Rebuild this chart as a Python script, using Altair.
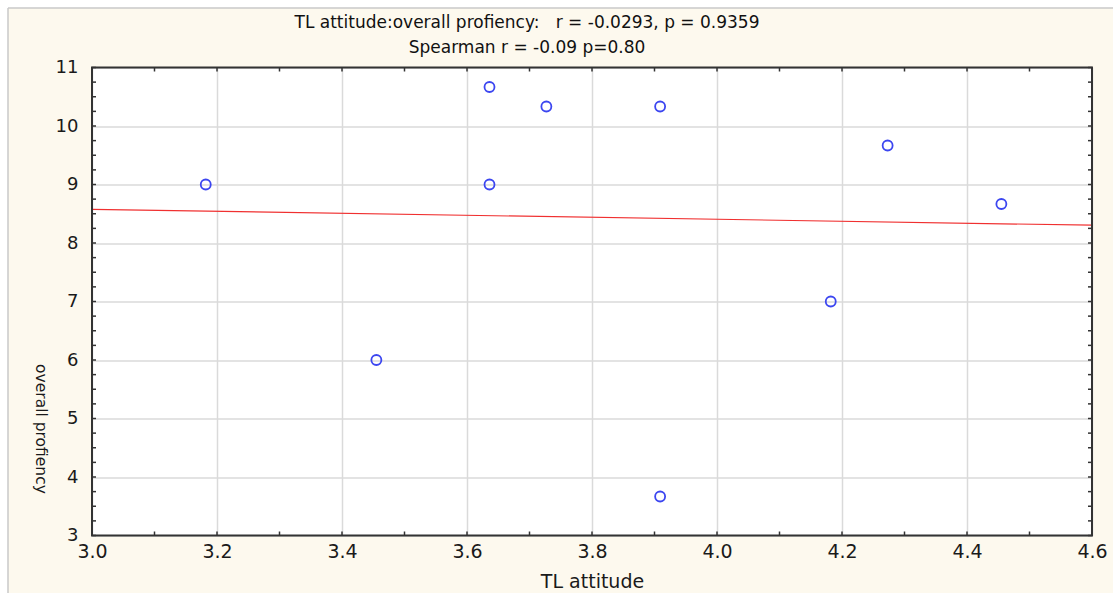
import altair as alt
import pandas as pd

# Observations: TL attitude vs overall profiency
tl_attitude = [3.182, 3.455, 3.636, 3.636, 3.727, 3.909, 3.909, 4.182, 4.273, 4.455]
overall_profiency = [9.0, 6.0, 10.667, 9.0, 10.333, 10.333, 3.667, 7.0, 9.667, 8.667]

# Axis labels and tick positions
x_label_values = [3.0, 3.2, 3.4, 3.6, 3.8, 4.0, 4.2, 4.4, 4.6]
y_label_values = [3, 4, 5, 6, 7, 8, 9, 10, 11]
x_tick_values = [3.0, 3.1, 3.2, 3.3, 3.4, 3.5, 3.6, 3.7, 3.8, 3.9,
                 4.0, 4.1, 4.2, 4.3, 4.4, 4.5, 4.6]
y_tick_values = [3 + 0.25 * i for i in range(33)]

title_lines = [
    "TL attitude:overall profiency:\u00a0\u00a0\u00a0r = -0.0293, p = 0.9359",
    "Spearman r = -0.09 p=0.80",
]

FONT = "DejaVu Sans"
CREAM = "#FDF9EE"
W, H = 1000, 468

df = pd.DataFrame({"x": tl_attitude, "y": overall_profiency})

xs = alt.Scale(domain=[3.0, 4.6], nice=False, zero=False)
ys = alt.Scale(domain=[3, 11], nice=False, zero=False)

x_axis = alt.Axis(
    values=x_label_values, format=".1f", grid=True, ticks=False, domain=False,
    labelFlush=False,
    labelFont=FONT, labelFontSize=19, labelColor="#1A1A1A", labelPadding=7,
    title="TL attitude", titleFont=FONT, titleFontSize=19, titleFontWeight="normal",
    titleColor="#1A1A1A", titlePadding=11, gridColor="#DADADA", gridWidth=1.5,
)
y_axis = alt.Axis(
    values=y_label_values, format="d", grid=True, ticks=False, domain=False,
    labelFont=FONT, labelFontSize=18, labelColor="#1A1A1A", labelPadding=14,
    title="overall profiency", titleFont=FONT, titleFontSize=15.5,
    titleFontWeight="normal", titleColor="#1A1A1A", titleAngle=90,
    titleX=-52, titleY=361, titleAlign="center", titleBaseline="middle",
    gridColor="#DADADA", gridWidth=1.5,
)

one = alt.Data(values=[{}])

points = alt.Chart(df).mark_point(
    shape="circle", filled=False, size=100, strokeWidth=1.8, color="#3C46F0", opacity=1
).encode(
    x=alt.X("x:Q", scale=xs, axis=x_axis),
    y=alt.Y("y:Q", scale=ys, axis=y_axis),
)

fit = alt.Chart(df).transform_regression(
    "x", "y", extent=[3.0, 4.6]
).mark_line(color="#F03030", strokeWidth=1.2).encode(
    x=alt.X("x:Q", scale=xs, axis=x_axis),
    y=alt.Y("y:Q", scale=ys, axis=y_axis),
)

xt = pd.DataFrame({"x": x_tick_values})
yt = pd.DataFrame({"y": y_tick_values})
tick_style = dict(color="#333", strokeWidth=1.5)

x_bottom = alt.Chart(xt).mark_rule(**tick_style).encode(
    x=alt.X("x:Q", scale=xs, axis=x_axis), y=alt.value(H), y2=alt.value(H - 4))
x_top = alt.Chart(xt).mark_rule(**tick_style).encode(
    x=alt.X("x:Q", scale=xs, axis=x_axis), y=alt.value(0), y2=alt.value(4))
y_left = alt.Chart(yt).mark_rule(**tick_style).encode(
    y=alt.Y("y:Q", scale=ys, axis=y_axis), x=alt.value(0), x2=alt.value(4))
y_right = alt.Chart(yt).mark_rule(**tick_style).encode(
    y=alt.Y("y:Q", scale=ys, axis=y_axis), x=alt.value(W), x2=alt.value(W - 4))

# plot frame
frame = alt.Chart(one).mark_rect(fill=None, stroke="#333", strokeWidth=2).encode(
    x=alt.value(0), x2=alt.value(W), y=alt.value(0), y2=alt.value(H)
)

# white page margin with a grey edge at the top and left
margin_top = alt.Chart(one).mark_rect(fill="white").encode(
    x=alt.value(-92), x2=alt.value(1021), y=alt.value(-67.5), y2=alt.value(-59.5))
margin_left = alt.Chart(one).mark_rect(fill="white").encode(
    x=alt.value(-92), x2=alt.value(-84), y=alt.value(-67.5), y2=alt.value(526))
edge_top = alt.Chart(one).mark_rule(color="#C8C8C8", strokeWidth=1.5).encode(
    x=alt.value(-84), x2=alt.value(1021), y=alt.value(-59.5))
edge_left = alt.Chart(one).mark_rule(color="#C8C8C8", strokeWidth=1.5).encode(
    x=alt.value(-84), y=alt.value(-59.5), y2=alt.value(526))

# two-line heading
heading = alt.Chart(pd.DataFrame({
    "line": title_lines, "yy": [-39.5, -14.5]
})).mark_text(
    font=FONT, fontSize=17, color="#111", align="center", baseline="alphabetic"
).encode(
    text="line:N", x=alt.value(435), y=alt.Y("yy:Q", scale=None)
)

chart = alt.layer(
    margin_top, margin_left, edge_top, edge_left,
    points, fit, x_bottom, x_top, y_left, y_right, frame, heading
).properties(
    width=W, height=H,
    background=CREAM,
    padding={"left": 92, "top": 67.5, "right": 21, "bottom": 57.5},
    autosize=alt.AutoSizeParams(type="none"),
).configure_view(stroke=None, fill="white")

chart.save("out.html", embed_options={"renderer": "svg", "actions": False})
